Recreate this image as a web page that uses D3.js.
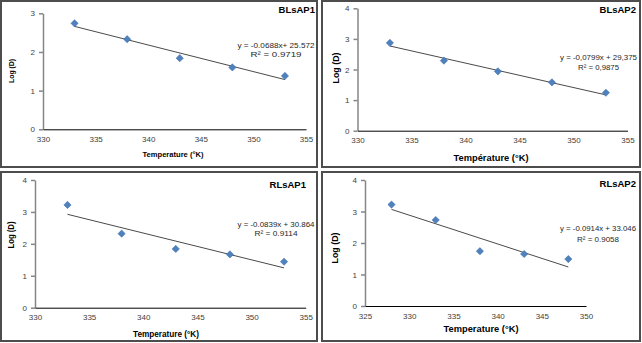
<!DOCTYPE html>
<html>
<head>
<meta charset="utf-8">
<script src="https://cdn.jsdelivr.net/npm/d3@7"></script>
<style>
  html, body { margin: 0; padding: 0; background: #fff; }
  svg { display: block; font-family: "Liberation Sans", Arial, sans-serif; }
</style>
</head>
<body>
<svg id="chart" width="642" height="343"></svg>
<script>
// ---------- DATA ----------
const panelNames = ["BLsAP1", "BLsAP2", "RLsAP1", "RLsAP2"];
const tempsA = [333, 338, 343, 348, 353];
const tempsB = [328, 333, 338, 343, 348];
const logD_BLsAP1 = [2.74, 2.33, 1.84, 1.60, 1.38];
const logD_BLsAP2 = [2.87, 2.29, 1.94, 1.58, 1.24];
const logD_RLsAP1 = [3.22, 2.32, 1.84, 1.67, 1.44];
const logD_RLsAP2 = [3.22, 2.73, 1.74, 1.65, 1.49];
const slopes = [-0.0688, -0.0799, -0.0839, -0.0914];
const intercepts = [25.572, 29.375, 30.864, 33.046];
const equationLabels = ["y = -0.0688x+ 25.572", "y = -0,0799x + 29,375", "y = -0.0839x + 30.864", "y = -0.0914x + 33.046"];
const r2Labels = ["R\u00B2 = 0.9719", "R\u00B2 = 0,9875", "R\u00B2 = 0.9114", "R\u00B2 = 0.9058"];
const xTitles = ["Temperature (\u00B0K)", "Temp\u00E9rature (\u00B0K)", "Temperature (\u00B0K)", "Temperature (\u00B0K)"];
const yTitle = "Log (D)";
const xTicksA = [330, 335, 340, 345, 350, 355];
const xTicksB = [325, 330, 335, 340, 345, 350];
const yTicks3 = [0, 1, 2, 3];
const yTicks4 = [0, 1, 2, 3, 4];

// ---------- LAYOUT ----------
const layout = [
  { box: [1, 1, 316, 166], xr: [43, 306], yr: [129.3, 13.3], xd: [330, 355], yd: [0, 3],
    temps: tempsA, vals: logD_BLsAP1, xt: xTicksA, yt: yTicks3,
    title: [315, 12.5, 9.5], eq: [276, 47.5, 57, 77, 51], xTitle: [173, 157, 61, 8], yTitleP: [11, 71, 24, 8] },
  { box: [322, 1, 318, 166], xr: [357.5, 627.5], yr: [130.7, 8.3], xd: [330, 355], yd: [0, 4],
    temps: tempsA, vals: logD_BLsAP2, xt: xTicksA, yt: yTicks4,
    title: [636, 13, 9.5], eq: [598.5, 60, 70, 77, 41], xTitle: [491, 160.5, 75, 9.5], yTitleP: [336, 68, 31, 9.5] },
  { box: [1, 172, 316, 169], xr: [35, 305.7], yr: [307.7, 180], xd: [330, 355], yd: [0, 4],
    temps: tempsA, vals: logD_RLsAP1, xt: xTicksA, yt: yTicks4,
    title: [306, 187.5, 9.5], eq: [276, 226.5, 236, 77, 43], xTitle: [166, 337, 66, 9], yTitleP: [11, 235, 27, 9] },
  { box: [322, 172, 318, 169], xr: [365, 586], yr: [306, 180], xd: [325, 350], yd: [0, 4],
    temps: tempsB, vals: logD_RLsAP2, xt: xTicksB, yt: yTicks4,
    title: [636, 186.5, 9.5], eq: [598, 231.3, 242, 76, 42], xTitle: [481, 331.5, 75, 9.5], yTitleP: [335, 248, 31, 9.5] }
];

const svg = d3.select("#chart");

layout.forEach((L, i) => {
  const g = svg.append("g");
  // panel border
  g.append("rect")
    .attr("x", L.box[0]).attr("y", L.box[1])
    .attr("width", L.box[2]).attr("height", L.box[3])
    .attr("fill", "none").attr("stroke", "#4d4d4d").attr("stroke-width", 2);

  const x = d3.scaleLinear().domain(L.xd).range(L.xr);
  const y = d3.scaleLinear().domain(L.yd).range(L.yr);

  // y axis
  const ya = g.append("g").attr("transform", `translate(${L.xr[0]},0)`)
    .call(d3.axisLeft(y).tickValues(L.yt).tickSize(4).tickSizeOuter(0).tickPadding(4).tickFormat(d3.format("d")));
  ya.select(".domain").attr("stroke", "#868686").attr("stroke-width", 1.5);
  ya.selectAll(".tick line").attr("stroke", "#868686").attr("stroke-width", 1.5);
  ya.selectAll(".tick text").attr("fill", "#404040").attr("font-size", 8).attr("font-family", "Liberation Sans, Arial, sans-serif");

  // x axis
  const xa = g.append("g").attr("transform", `translate(0,${L.yr[0]})`)
    .call(d3.axisBottom(x).tickValues(L.xt).tickSize(0).tickPadding(7).tickFormat(d3.format("d")));
  xa.select(".domain").attr("stroke", "#000").attr("stroke-width", 1);
  xa.selectAll(".tick text").attr("fill", "#404040").attr("font-size", 8).attr("font-family", "Liberation Sans, Arial, sans-serif");

  // trend line
  const tx0 = d3.min(L.temps), tx1 = d3.max(L.temps);
  g.append("line")
    .attr("x1", x(tx0)).attr("y1", y(slopes[i] * tx0 + intercepts[i]))
    .attr("x2", x(tx1)).attr("y2", y(slopes[i] * tx1 + intercepts[i]))
    .attr("stroke", "#4a4a4a").attr("stroke-width", 1);

  // markers
  const diamond = "M0,-3.6L3.6,0L0,3.6L-3.6,0Z";
  g.selectAll("path.pt").data(L.temps.map((t, k) => [t, L.vals[k]]))
    .enter().append("path").attr("class", "pt")
    .attr("d", diamond)
    .attr("transform", d => `translate(${x(d[0])},${y(d[1])})`)
    .attr("fill", "#4f81bd").attr("stroke", "#3d6fae").attr("stroke-width", 0.6);

  // equation
  g.append("text").attr("x", L.eq[0]).attr("y", L.eq[1])
    .attr("text-anchor", "middle").attr("font-size", 8).attr("fill", "#262626")
    .attr("textLength", L.eq[3]).attr("lengthAdjust", "spacingAndGlyphs")
    .text(equationLabels[i]);
  g.append("text").attr("x", L.eq[0]).attr("y", L.eq[2])
    .attr("text-anchor", "middle").attr("font-size", 8).attr("fill", "#262626")
    .attr("textLength", L.eq[4]).attr("lengthAdjust", "spacingAndGlyphs")
    .text(r2Labels[i]);

  // panel title
  g.append("text").attr("x", L.title[0]).attr("y", L.title[1])
    .attr("text-anchor", "end").attr("font-size", L.title[2]).attr("font-weight", "bold")
    .attr("fill", "#000").text(panelNames[i]);

  // x title
  g.append("text").attr("x", L.xTitle[0]).attr("y", L.xTitle[1])
    .attr("text-anchor", "middle").attr("font-size", L.xTitle[3]).attr("font-weight", "bold")
    .attr("textLength", L.xTitle[2]).attr("lengthAdjust", "spacingAndGlyphs")
    .attr("fill", "#000").text(xTitles[i]);

  // y title
  g.append("text")
    .attr("transform", `translate(${L.yTitleP[0]},${L.yTitleP[1]}) rotate(-90)`)
    .attr("text-anchor", "middle").attr("dy", "0.35em")
    .attr("font-size", L.yTitleP[3]).attr("font-weight", "bold")
    .attr("textLength", L.yTitleP[2]).attr("lengthAdjust", "spacingAndGlyphs")
    .attr("fill", "#000").text(yTitle);
});
</script>
</body>
</html>
